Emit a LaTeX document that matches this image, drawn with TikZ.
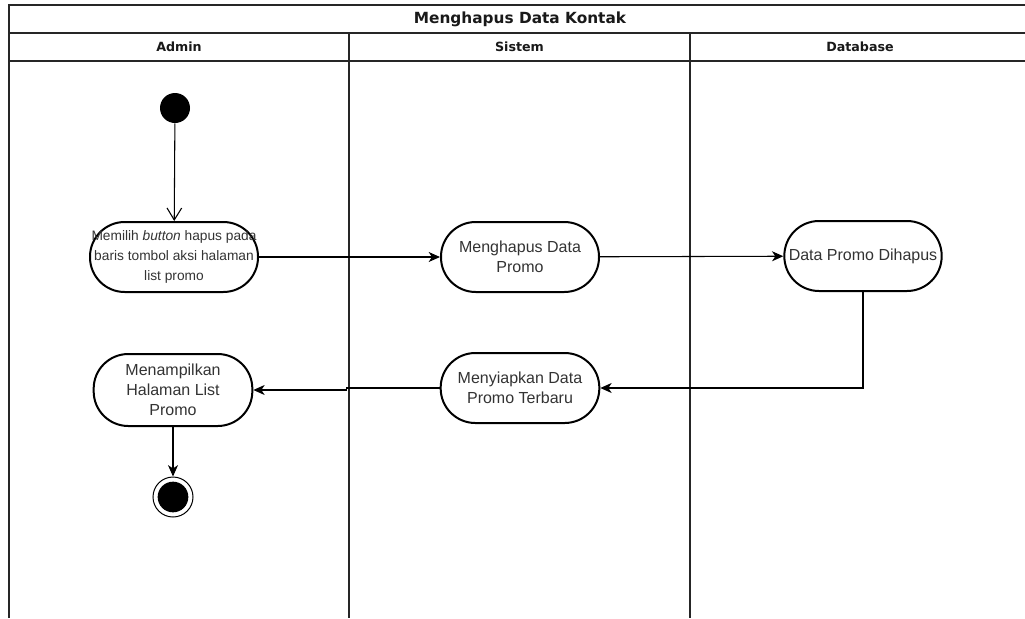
\documentclass[tikz,border=0pt]{standalone}
\usepackage{fontspec}
\setmainfont{Liberation Sans}
\newfontfamily\headfont{DejaVu Sans}
\usepackage{tikz}
\usetikzlibrary{arrows.meta,shapes}

\definecolor{txtgray}{HTML}{333333}

\begin{document}
\begin{tikzpicture}[x=0.75pt,y=-0.75pt,
    lane/.style={line width=0.8pt,black!85},
    headtxt/.style={font=\headfont\bfseries\fontsize{9.5}{11}\selectfont,text=black!90},
    activity/.style={draw,line width=1.5pt,rounded corners=26pt,minimum height=52.5pt,
      inner sep=1pt,align=center,text=txtgray,font=\fontsize{12}{15}\selectfont},
    startstate/.style={circle,fill=black,minimum size=22.5pt,inner sep=0pt},
    endstate/.style={circle,draw,line width=0.75pt,minimum size=30pt,inner sep=0pt,
      path picture={\fill[black] (path picture bounding box.center) circle (11.5pt);}},
    flow/.style={line width=0.8pt,-{Stealth[length=8.5pt,width=7.5pt,inset=2.5pt]}}]
   \clip (0,0) rectangle (1025,618);
   \fill[white] (0,0) rectangle (1025,618);

   % swimlanes
   \draw[lane] (9,618) -- (9,5) -- (1031,5) -- (1031,618);
   \draw[lane] (9,33) -- (1031,33);
   \draw[lane] (9,61) -- (1031,61);
   \draw[lane] (349,33) -- (349,618);
   \draw[lane] (690,33) -- (690,618);
   \node[headtxt,font=\headfont\bfseries\fontsize{11.5}{13}\selectfont] (judul) at (520,19) {Menghapus Data Kontak};
   \node[headtxt] (admin) at (179,47) {Admin};
   \node[headtxt] (sistem) at (519.5,47) {Sistem};
   \node[headtxt] (database) at (860,47) {Database};

   % activities
   \node[startstate] (start) at (175,108) {};
   \node[activity,minimum width=126pt,font=\fontsize{10.3}{15}\selectfont] (pilih) at (174,257)
     {Memilih \textit{button} hapus pada\\baris tombol aksi halaman\\list promo};
   \node[activity,minimum width=118.5pt] (hapus) at (520,257) {Menghapus Data\\Promo};
   \node[activity,minimum width=118pt] (dihapus) at (863,256) {Data Promo Dihapus};
   \node[activity,minimum width=119pt] (siapkan) at (520,388) {Menyiapkan Data\\Promo Terbaru};
   \node[activity,minimum width=119pt,minimum height=54pt] (tampil) at (173,390) {Menampilkan\\Halaman List\\Promo};
   \node[endstate] (end) at (173,497) {};

   % flows
   \draw[line width=0.8pt,-{Straight Barb[length=9pt,width=11pt]}] (start) -- (pilih);
   \draw[flow] (pilih) -- (hapus);
   \draw[flow] (hapus) -- (dihapus);
   \draw[flow] (dihapus.south) |- (siapkan.east);
   \draw[flow] (siapkan.west) -- ++(-93,0) |- (tampil.east);
   \draw[flow] (tampil) -- (end);
\end{tikzpicture}
\end{document}
